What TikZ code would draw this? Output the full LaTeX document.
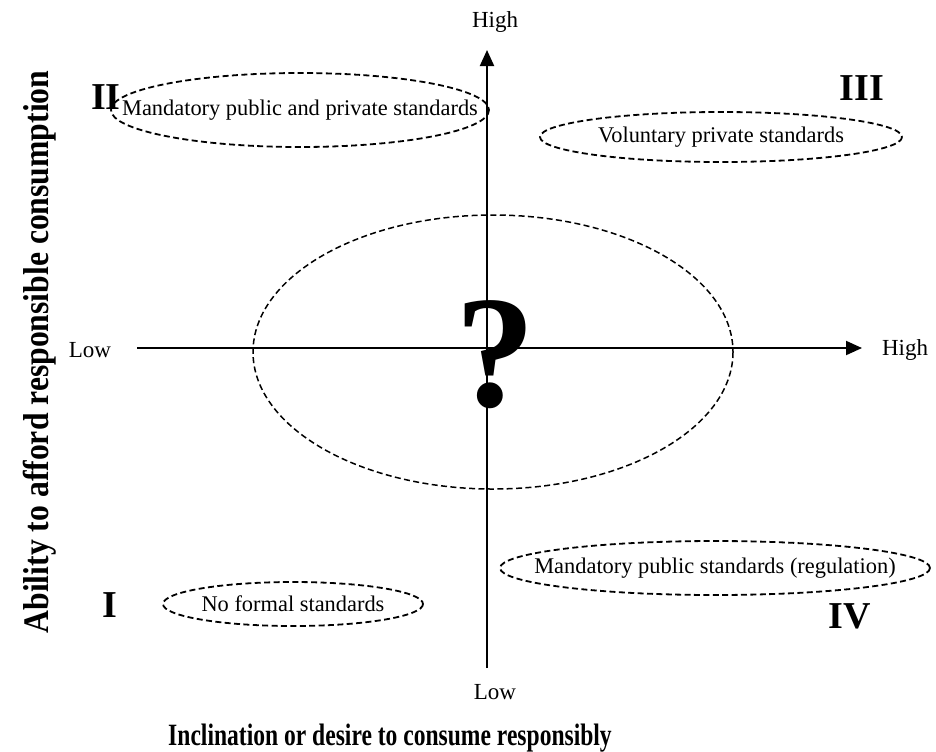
\documentclass[tikz,border=0pt]{standalone}
\usepackage{fontspec}
\setmainfont{Liberation Serif}
\usetikzlibrary{arrows.meta}

\begin{document}
\begin{tikzpicture}[x=0.5pt,y=-0.5pt,
    zone/.style={draw,dash pattern=on 3pt off 1.7pt,line width=0.9pt},
    label/.style={font=\fontsize{11.2}{13}\selectfont},
    quad/.style={font=\fontsize{19}{22}\selectfont\bfseries},
    ends/.style={font=\fontsize{11.5}{13}\selectfont},
    axis/.style={line width=1pt,-{Triangle[length=8pt,width=7pt]}}]
    \useasboundingbox (0,0) rectangle (936,751);
        % axes
        \coordinate (ylow) at (487,668);
        \coordinate (yhigh) at (487,50);
        \coordinate (xlow) at (137,348);
        \coordinate (xhigh) at (862,348);
        \draw[axis] (ylow) -- (yhigh);
        \draw[axis] (xlow) -- (xhigh);
        \node[ends] (yhightxt) at (495,22) {High};
        \node[ends] (ylowtxt) at (495,692) {Low};
        \node[ends] (xlowtxt) at (90,350) {Low};
        \node[ends] (xhightxt) at (905,350) {High};
        % dashed regions
        \node[label] (mixed) at (300,110) {Mandatory public and private standards};
        \draw[zone] (mixed) ellipse [x radius=189, y radius=37];
        \node[label] (voluntary) at (721,137) {Voluntary private standards};
        \draw[zone] (voluntary) ellipse [x radius=181, y radius=25];
        \node[label] (regulation) at (715,568) {Mandatory public standards (regulation)};
        \draw[zone] (regulation) ellipse [x radius=215, y radius=27];
        \node[label] (none) at (293,604) {No formal standards};
        \draw[zone] (none) ellipse [x radius=130, y radius=22];
        \coordinate (middle) at (493,352);
        \draw[zone, line width=0.75pt] (middle) ellipse [x radius=240, y radius=137];
        \node[font=\fontsize{80}{80}\selectfont\bfseries] (unknown) at (495,355) {?};
        % quadrants
        \node[quad] (q2) at (106,97) {II};
        \node[quad] (q3) at (862,88) {III};
        \node[quad] (q1) at (110,605) {I};
        \node[quad] (q4) at (850,616) {IV};
        % axis titles
        \node[font=\fontsize{15.5}{17}\selectfont\bfseries] (xtitle) at (390,738) {\scalebox{0.76}[1]{Inclination or desire to consume responsibly}};
        \node[rotate=90, font=\fontsize{18}{20}\selectfont\bfseries] (ytitle) at (40,352) {\scalebox{0.88}[1]{Ability to afford responsible consumption}};
    \end{tikzpicture}
\end{document}
